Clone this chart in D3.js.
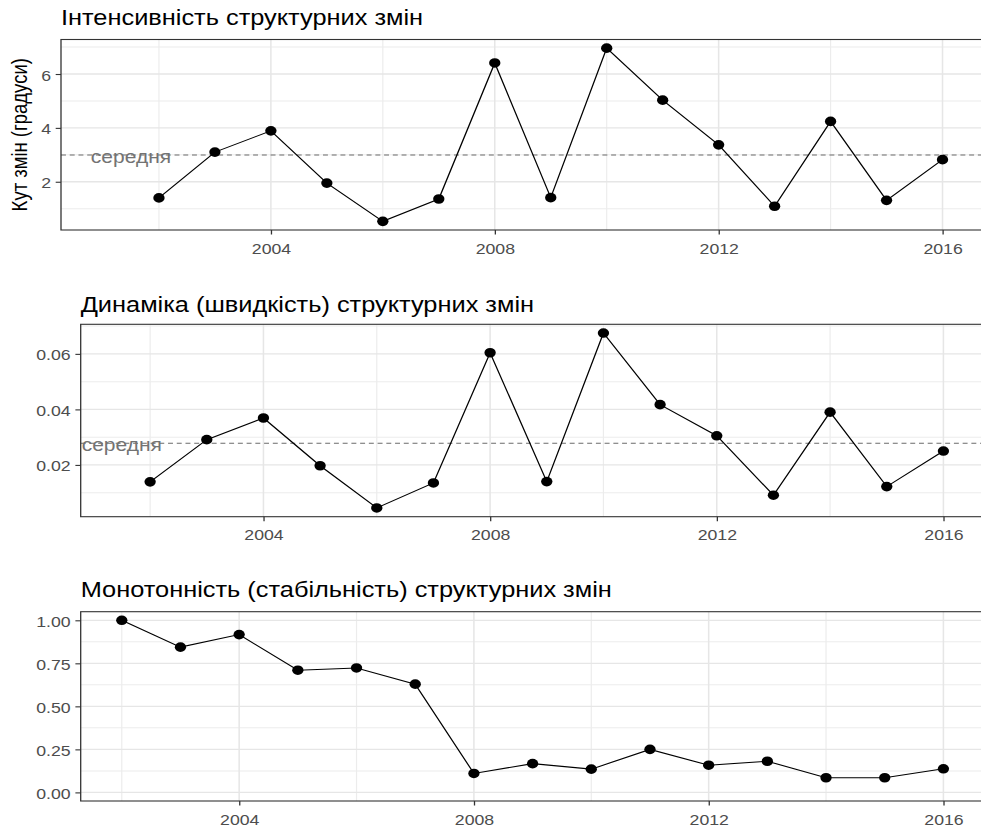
<!DOCTYPE html>
<html>
<head>
<meta charset="utf-8">
<script src="https://cdn.jsdelivr.net/npm/d3@7"></script>
<style>
  html, body { margin: 0; padding: 0; background: #fff; }
  svg { display: block; font-family: "Liberation Sans", Arial, sans-serif; }
</style>
</head>
<body>
<svg id="chart" width="981" height="829"></svg>
<script>
// ---- data -------------------------------------------------------------
const years = [2002, 2003, 2004, 2005, 2006, 2007, 2008, 2009, 2010, 2011, 2012, 2013, 2014, 2015, 2016];

// angle of structural change, degrees
const intensity = [1.40, 3.10, 3.89, 1.95, 0.53, 1.36, 6.41, 1.41, 6.96, 5.03, 3.37, 1.09, 4.24, 1.31, 2.82];
// speed of structural change
const speed = [0.0139, 0.0291, 0.0369, 0.0197, 0.0045, 0.0135, 0.0604, 0.0140, 0.0675, 0.0417, 0.0305, 0.0091, 0.0390, 0.0122, 0.0250];
// stability of structural change
const monotony = [1.00, 0.844, 0.917, 0.710, 0.723, 0.629, 0.110, 0.167, 0.135, 0.250, 0.158, 0.181, 0.085, 0.085, 0.137];

const xTicks = [2004, 2008, 2012, 2016];
const intensityTicks = [2, 4, 6];
const speedTicks = [0.02, 0.04, 0.06];
const monotonyTicks = [0, 0.25, 0.5, 0.75, 1];

const titles = [
  "Інтенсивність структурних змін",
  "Динаміка (швидкість) структурних змін",
  "Монотонність (стабільність) структурних змін"
];
const yTitle = "Кут змін (градуси)";
const meanLabel = "середня";

// ---- layout -----------------------------------------------------------
// whole drawing is widened horizontally by SX; x positions below are in
// final page pixels and divided by SX when used
const SX = 1.18;
const RIGHT = 984.5;
const TICK = 4.5;

const panels = [
  { title: titles[0], values: intensity, ticks: intensityTicks, fmt: d3.format("d"),
    xDomain: [2000.25, 2016.75], left: 61, top: 39.5, bottom: 230, titleY: 25.3,
    mean: true, axisTitle: yTitle },
  { title: titles[1], values: speed, ticks: speedTicks, fmt: d3.format(".2f"),
    xDomain: [2000.775, 2016.725], left: 80.7, top: 324.3, bottom: 516.7, titleY: 312.3,
    mean: true },
  { title: titles[2], values: monotony, ticks: monotonyTicks, fmt: d3.format(".2f"),
    xDomain: [2001.3, 2016.7], left: 80.7, top: 611.7, bottom: 801, titleY: 597.3,
    fixedY: [0, 1] }
];

const svg = d3.select("#chart");
const root = svg.append("g").attr("transform", `scale(${SX},1)`);

function expand(ext, f = 0.05) {
  const pad = (ext[1] - ext[0]) * f;
  return [ext[0] - pad, ext[1] + pad];
}

function minorTicks(major, domain) {
  const step = major[1] - major[0];
  const out = [];
  for (let v = major[0] - step / 2; v <= domain[1]; v += step) {
    if (v >= domain[0]) out.push(v);
  }
  return out;
}

panels.forEach(p => {
  const g = root.append("g");
  const x = d3.scaleLinear().domain(p.xDomain).range([p.left / SX, RIGHT / SX]);
  const yDom = expand(p.fixedY || d3.extent(p.values));
  const y = d3.scaleLinear().domain(yDom).range([p.bottom, p.top]);
  const x0 = x.range()[0], x1 = x.range()[1];

  // minor grid
  const grid = g.append("g").attr("fill", "none");
  minorTicks(xTicks, p.xDomain).forEach(v => {
    grid.append("line").attr("x1", x(v)).attr("x2", x(v)).attr("y1", p.top).attr("y2", p.bottom)
      .attr("stroke", "#ececec").attr("stroke-width", 1);
  });
  minorTicks(p.ticks, yDom).forEach(v => {
    grid.append("line").attr("x1", x0).attr("x2", x1).attr("y1", y(v)).attr("y2", y(v))
      .attr("stroke", "#ececec").attr("stroke-width", 1);
  });
  // major grid
  xTicks.forEach(v => {
    grid.append("line").attr("x1", x(v)).attr("x2", x(v)).attr("y1", p.top).attr("y2", p.bottom)
      .attr("stroke", "#e6e6e6").attr("stroke-width", 1.3);
  });
  p.ticks.forEach(v => {
    grid.append("line").attr("x1", x0).attr("x2", x1).attr("y1", y(v)).attr("y2", y(v))
      .attr("stroke", "#e6e6e6").attr("stroke-width", 1.3);
  });

  // mean reference line with its label
  if (p.mean) {
    const m = d3.mean(p.values);
    g.append("line").attr("x1", x0).attr("x2", x1).attr("y1", y(m)).attr("y2", y(m))
      .attr("stroke", "#6b6b6b").attr("stroke-width", 1.1).attr("stroke-dasharray", "4.2,3.2");
    g.append("text").attr("x", x(2001.5)).attr("y", y(m)).attr("dy", 8)
      .attr("text-anchor", "middle").attr("font-size", 17.8).attr("fill", "#737373")
      .text(meanLabel);
  }

  // series
  const pts = years.map((yr, i) => [yr, p.values[i]]);
  g.append("path").datum(pts)
    .attr("fill", "none").attr("stroke", "#000").attr("stroke-width", 1.1)
    .attr("d", d3.line().x(d => x(d[0])).y(d => y(d[1])));
  g.append("g").selectAll("circle").data(pts).join("circle")
    .attr("cx", d => x(d[0])).attr("cy", d => y(d[1])).attr("r", 4.8).attr("fill", "#000");

  // panel border
  g.append("rect").attr("x", x0).attr("y", p.top).attr("width", x1 - x0).attr("height", p.bottom - p.top)
    .attr("fill", "none").attr("stroke", "#333").attr("stroke-width", 1.1);

  // axes
  const ax = g.append("g").attr("transform", `translate(0,${p.bottom})`)
    .call(d3.axisBottom(x).tickValues(xTicks).tickFormat(d3.format("d")).tickSize(TICK).tickPadding(8.6));
  const ay = g.append("g").attr("transform", `translate(${x0},0)`)
    .call(d3.axisLeft(y).tickValues(p.ticks).tickFormat(p.fmt).tickSize(TICK).tickPadding(4));
  [ax, ay].forEach(a => {
    a.select(".domain").remove();
    a.selectAll(".tick line").attr("stroke", "#333").attr("stroke-width", 1.1);
    a.selectAll(".tick text").attr("fill", "#4d4d4d").attr("font-size", 15)
      .attr("font-family", "Liberation Sans, Arial, sans-serif");
  });
  ay.selectAll(".tick text").attr("dy", "0.4em");

  // title
  g.append("text").attr("x", p.left / SX).attr("y", p.titleY)
    .attr("font-size", 21.5).attr("fill", "#000").text(p.title);

  if (p.axisTitle) {
    g.append("text")
      .attr("transform", `translate(${27.2 / SX},${(p.top + p.bottom) / 2}) rotate(-90)`)
      .attr("text-anchor", "middle").attr("font-size", 18.5).attr("fill", "#000")
      .text(p.axisTitle);
  }
});
</script>
</body>
</html>
